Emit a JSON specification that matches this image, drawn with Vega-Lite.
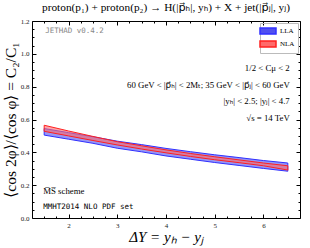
{
  "$schema": "https://vega.github.io/schema/vega-lite/v6.json",
  "autosize": "none",
  "width": 268,
  "height": 197,
  "padding": {"left": 32, "top": 21, "right": 10, "bottom": 30},
  "background": "white",
  "config": {
    "view": {"stroke": "black", "strokeWidth": 1},
    "axis": {"grid": false, "domain": false, "labelFont": "Liberation Serif", "labelFontSize": 7, "labelColor": "#222", "tickColor": "black", "titleFont": "Liberation Serif", "titleFontWeight": "normal", "titleColor": "black"}
  },
  "title": {"text": "proton(p₁) + proton(p₂) → H(|p⃗ₕ|, yₕ) + X + jet(|p⃗ⱼ|, yⱼ)", "font": "Liberation Serif, DejaVu Sans", "fontSize": 11.3, "fontWeight": "normal", "color": "black", "offset": 4, "anchor": "middle"},
  "datasets": {
    "bands": [
      {"dY": 1.5, "series": "LLA", "lo": 0.505, "hi": 0.545},
      {"dY": 2.0, "series": "LLA", "lo": 0.480, "hi": 0.520},
      {"dY": 2.5, "series": "LLA", "lo": 0.455, "hi": 0.495},
      {"dY": 3.0, "series": "LLA", "lo": 0.425, "hi": 0.468},
      {"dY": 3.5, "series": "LLA", "lo": 0.403, "hi": 0.447},
      {"dY": 4.0, "series": "LLA", "lo": 0.378, "hi": 0.424},
      {"dY": 4.5, "series": "LLA", "lo": 0.358, "hi": 0.404},
      {"dY": 5.0, "series": "LLA", "lo": 0.338, "hi": 0.385},
      {"dY": 5.5, "series": "LLA", "lo": 0.320, "hi": 0.368},
      {"dY": 6.0, "series": "LLA", "lo": 0.302, "hi": 0.350},
      {"dY": 6.5, "series": "LLA", "lo": 0.285, "hi": 0.335},
      {"dY": 1.5, "series": "NLA", "lo": 0.528, "hi": 0.565},
      {"dY": 2.0, "series": "NLA", "lo": 0.500, "hi": 0.530},
      {"dY": 2.5, "series": "NLA", "lo": 0.472, "hi": 0.497},
      {"dY": 3.0, "series": "NLA", "lo": 0.445, "hi": 0.465},
      {"dY": 3.5, "series": "NLA", "lo": 0.420, "hi": 0.440},
      {"dY": 4.0, "series": "NLA", "lo": 0.397, "hi": 0.415},
      {"dY": 4.5, "series": "NLA", "lo": 0.375, "hi": 0.393},
      {"dY": 5.0, "series": "NLA", "lo": 0.355, "hi": 0.373},
      {"dY": 5.5, "series": "NLA", "lo": 0.337, "hi": 0.354},
      {"dY": 6.0, "series": "NLA", "lo": 0.318, "hi": 0.335},
      {"dY": 6.5, "series": "NLA", "lo": 0.292, "hi": 0.318}
    ]
  },
  "resolve": {"axis": {"x": "independent", "y": "independent"}},
  "layer": [
    {
      "data": {"name": "bands"},
      "transform": [{"filter": "datum.series === 'LLA'"}],
      "mark": {"type": "area", "fillOpacity": 0.6, "strokeWidth": 1},
      "encoding": {
        "x": {"field": "dY", "type": "quantitative", "scale": {"domain": [1.25, 6.75], "nice": false, "zero": false},
          "axis": {"orient": "bottom", "values": [1.5,1.75,2,2.25,2.5,2.75,3,3.25,3.5,3.75,4,4.25,4.5,4.75,5,5.25,5.5,5.75,6,6.25,6.5],
            "labelExpr": "datum.value % 1 === 0 ? format(datum.value, 'd') : ''",
            "tickSize": {"condition": {"test": "datum.value % 1 === 0", "value": -4}, "value": -2},
            "labelPadding": 7, "title": "ΔY = yₕ − yⱼ", "titleFontSize": 15, "titleFontStyle": "italic", "titlePadding": 1}},
        "y": {"field": "lo", "type": "quantitative", "scale": {"domain": [0, 1.2], "nice": false},
          "axis": {"orient": "left", "values": [0,0.05,0.1,0.15,0.2,0.25,0.3,0.35,0.4,0.45,0.5,0.55,0.6,0.65,0.7,0.75,0.8,0.85,0.9,0.95,1.0,1.05,1.1,1.15,1.2],
            "labelExpr": "abs(datum.value*5 - round(datum.value*5)) < 0.001 ? format(datum.value, '.1f') : ''",
            "tickSize": {"condition": {"test": "abs(datum.value*5 - round(datum.value*5)) < 0.001", "value": -4}, "value": -2},
            "labelPadding": 7, "title": "⟨cos 2φ⟩/⟨cos φ⟩ = C₂/C₁", "titleFontSize": 15.5, "titlePadding": 2}},
        "y2": {"field": "hi"},
        "color": {"field": "series", "type": "nominal", "scale": {"domain": ["LLA", "NLA"], "range": ["#5050f0", "#ff6a6a"]},
          "legend": {"orient": "top-right", "offset": 2, "title": null, "strokeColor": "#bbb", "padding": 3, "labelFont": "Liberation Serif", "labelFontSize": 7, "labelColor": "black", "symbolType": "M-2,-0.75H2V0.75H-2Z", "symbolSize": 64, "rowPadding": 1, "labelOffset": 7}},
        "stroke": {"field": "series", "type": "nominal", "scale": {"domain": ["LLA", "NLA"], "range": ["#3030ff", "#ff2020"]}, "legend": null}
      }
    },
    {
      "data": {"name": "bands"},
      "transform": [{"filter": "datum.series === 'NLA'"}],
      "mark": {"type": "area", "fillOpacity": 0.6, "strokeWidth": 1},
      "encoding": {
        "x": {"field": "dY", "type": "quantitative",
          "axis": {"orient": "top", "values": [1.5,1.75,2,2.25,2.5,2.75,3,3.25,3.5,3.75,4,4.25,4.5,4.75,5,5.25,5.5,5.75,6,6.25,6.5],
            "labels": false, "title": null,
            "tickSize": {"condition": {"test": "datum.value % 1 === 0", "value": -4}, "value": -2}}},
        "y": {"field": "lo", "type": "quantitative",
          "axis": {"orient": "right", "values": [0,0.05,0.1,0.15,0.2,0.25,0.3,0.35,0.4,0.45,0.5,0.55,0.6,0.65,0.7,0.75,0.8,0.85,0.9,0.95,1.0,1.05,1.1,1.15,1.2],
            "labels": false, "title": null,
            "tickSize": {"condition": {"test": "abs(datum.value*5 - round(datum.value*5)) < 0.001", "value": -4}, "value": -2}}},
        "y2": {"field": "hi"},
        "color": {"field": "series", "type": "nominal"},
        "stroke": {"field": "series", "type": "nominal", "legend": null}
      }
    },
    {
      "data": {"values": [{}]},
      "mark": {"type": "text", "text": "JETHAD v0.4.2", "font": "DejaVu Sans Mono", "fontSize": 7.5, "color": "#888", "align": "left", "baseline": "middle"},
      "encoding": {"x": {"datum": 1.52, "type": "quantitative", "axis": null}, "y": {"datum": 1.139, "type": "quantitative", "axis": null}}
    },
    {
      "data": {"values": [{}]},
      "mark": {"type": "text", "text": "1/2 < Cμ < 2", "font": "Liberation Serif", "fontSize": 8.8, "color": "black", "align": "right", "baseline": "middle"},
      "encoding": {"x": {"datum": 6.54, "type": "quantitative", "axis": null}, "y": {"datum": 0.913, "type": "quantitative", "axis": null}}
    },
    {
      "data": {"values": [{}]},
      "mark": {"type": "text", "text": "60 GeV < |p⃗ₕ| < 2Mₜ; 35 GeV < |p⃗ⱼ| < 60 GeV", "font": "Liberation Serif, DejaVu Sans", "fontSize": 8.8, "color": "black", "align": "right", "baseline": "middle"},
      "encoding": {"x": {"datum": 6.54, "type": "quantitative", "axis": null}, "y": {"datum": 0.81, "type": "quantitative", "axis": null}}
    },
    {
      "data": {"values": [{}]},
      "mark": {"type": "text", "text": "|yₕ| < 2.5;  |yⱼ| < 4.7", "font": "Liberation Serif, DejaVu Sans", "fontSize": 8.8, "color": "black", "align": "right", "baseline": "middle"},
      "encoding": {"x": {"datum": 6.54, "type": "quantitative", "axis": null}, "y": {"datum": 0.713, "type": "quantitative", "axis": null}}
    },
    {
      "data": {"values": [{}]},
      "mark": {"type": "text", "text": "√s = 14 TeV", "font": "Liberation Serif", "fontSize": 8.8, "color": "black", "align": "right", "baseline": "middle"},
      "encoding": {"x": {"datum": 6.54, "type": "quantitative", "axis": null}, "y": {"datum": 0.609, "type": "quantitative", "axis": null}}
    },
    {
      "data": {"values": [{}]},
      "mark": {"type": "text", "text": "M̅S̅ scheme", "font": "Liberation Serif, DejaVu Sans", "fontSize": 8.8, "color": "black", "align": "left", "baseline": "middle"},
      "encoding": {"x": {"datum": 1.48, "type": "quantitative", "axis": null}, "y": {"datum": 0.164, "type": "quantitative", "axis": null}}
    },
    {
      "data": {"values": [{}]},
      "mark": {"type": "text", "text": "MMHT2014 NLO PDF set", "font": "DejaVu Sans Mono", "fontSize": 7.5, "color": "black", "align": "left", "baseline": "middle"},
      "encoding": {"x": {"datum": 1.48, "type": "quantitative", "axis": null}, "y": {"datum": 0.067, "type": "quantitative", "axis": null}}
    }
  ]
}
